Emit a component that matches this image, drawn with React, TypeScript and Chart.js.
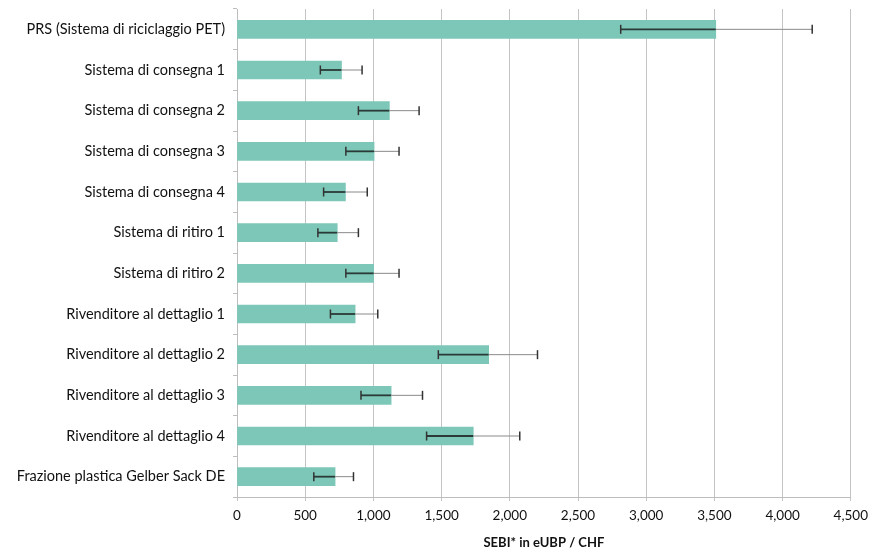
import React, { useEffect, useRef } from "react";
import { Chart, registerables } from "chart.js";

Chart.register(...registerables);

const categories = [
  "PRS (Sistema di riciclaggio PET)",
  "Sistema di consegna 1",
  "Sistema di consegna 2",
  "Sistema di consegna 3",
  "Sistema di consegna 4",
  "Sistema di ritiro 1",
  "Sistema di ritiro 2",
  "Rivenditore al dettaglio 1",
  "Rivenditore al dettaglio 2",
  "Rivenditore al dettaglio 3",
  "Rivenditore al dettaglio 4",
  "Frazione plastica Gelber Sack DE",
];

const values = [3510, 766, 1117, 1005, 795, 735, 1002, 866, 1845, 1130, 1732, 719];
const errLow = [2813, 611, 890, 798, 635, 593, 798, 685, 1476, 909, 1390, 563];
const errHigh = [4217, 917, 1335, 1188, 955, 890, 1188, 1032, 2203, 1360, 2073, 854];

const xTicks = [0, 500, 1000, 1500, 2000, 2500, 3000, 3500, 4000, 4500];
const axisTitle = "SEBI* in eUBP / CHF";

const FONT = "Lato, 'Open Sans', sans-serif";

const errorBarPlugin = {
  id: "errorBars",
  afterDatasetsDraw(chart: any) {
    const ctx = chart.ctx;
    const meta = chart.getDatasetMeta(0);
    const xs = chart.scales.x;
    ctx.save();
    meta.data.forEach((bar: any, i: number) => {
      const y = bar.y;
      const xl = xs.getPixelForValue(errLow[i]);
      const xh = xs.getPixelForValue(errHigh[i]);
      const xv = xs.getPixelForValue(values[i]);
      ctx.strokeStyle = "#2a3a36";
      ctx.lineWidth = 1.8;
      ctx.beginPath();
      ctx.moveTo(xl, y);
      ctx.lineTo(Math.min(xv, xh), y);
      ctx.stroke();
      ctx.strokeStyle = "#8a8a8a";
      ctx.lineWidth = 1;
      ctx.beginPath();
      ctx.moveTo(Math.max(xv, xl), y);
      ctx.lineTo(xh, y);
      ctx.stroke();
      ctx.strokeStyle = "#333";
      ctx.lineWidth = 1.5;
      [xl, xh].forEach((x) => {
        ctx.beginPath();
        ctx.moveTo(x, y - 4.5);
        ctx.lineTo(x, y + 4.5);
        ctx.stroke();
      });
    });
    ctx.restore();
  },
};

export default function App() {
  const ref = useRef<HTMLCanvasElement>(null);
  useEffect(() => {
    const chart = new Chart(ref.current!, {
      type: "bar",
      data: {
        labels: categories,
        datasets: [
          {
            data: values,
            backgroundColor: "#7cc7b7",
            borderWidth: 0,
            barThickness: 18,
          },
        ],
      },
      options: {
        indexAxis: "y",
        animation: false,
        responsive: false,
        maintainAspectRatio: false,
        layout: { padding: { top: 9, right: 14, left: 0, bottom: 0 } },
        plugins: {
          legend: { display: false },
          tooltip: { enabled: false },
        },
        scales: {
          x: {
            min: 0,
            max: 4500,
            afterBuildTicks: (scale: any) => {
              scale.ticks = xTicks.map((v) => ({ value: v }));
            },
            afterFit: (scale: any) => {
              scale.height = 55;
            },
            ticks: {
              color: "#111",
              font: { family: FONT, size: 13.5 },
              padding: 7,
              callback: (v: any) => Number(v).toLocaleString("en-US"),
            },
            grid: {
              color: "#c4c4c4",
              lineWidth: 1,
              tickLength: 4,
            },
            border: { color: "#bdbdbd" },
            title: {
              display: true,
              text: axisTitle,
              color: "#111",
              font: { family: FONT, size: 13, weight: "bold" },
              padding: { top: 0, bottom: 1 },
            },
          },
          y: {
            afterFit: (scale: any) => {
              scale.width = 237;
              scale.paddingTop = 0;
              scale.paddingBottom = 0;
            },
            ticks: {
              color: "#111",
              font: { family: FONT, size: 14.5 },
              padding: 8,
            },
            grid: {
              drawOnChartArea: false,
              color: "#bdbdbd",
              tickLength: 4,
            },
            border: { color: "#bdbdbd" },
          },
        },
      },
      plugins: [errorBarPlugin],
    } as any);
    return () => chart.destroy();
  }, []);
  return (
    <div style={{ position: "fixed", left: 0, top: 0, width: 875, height: 552, background: "#fff" }}>
      <canvas ref={ref} width={875} height={552} style={{ width: 875, height: 552 }} />
    </div>
  );
}
